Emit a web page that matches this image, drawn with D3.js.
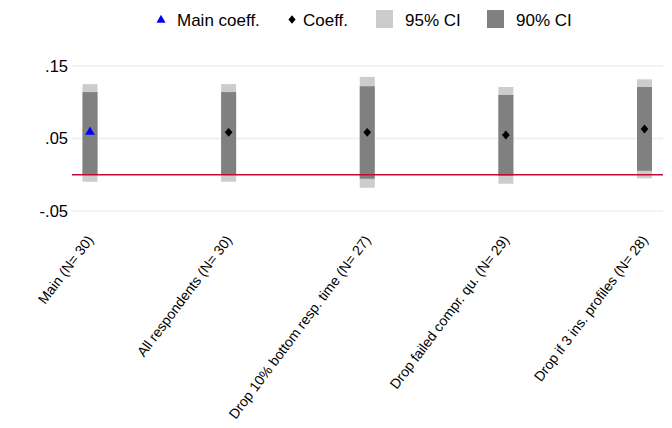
<!DOCTYPE html>
<html><head><meta charset="utf-8">
<script src="https://cdn.jsdelivr.net/npm/d3@7"></script>
<style>body{margin:0;background:#fff}svg{display:block;font-family:"Liberation Sans",Arial,sans-serif}</style>
</head><body><svg id="c" width="672" height="428"></svg>
<script>
const categories = ["Main (N= 30)","All respondents (N= 30)","Drop 10% bottom resp. time (N= 27)","Drop failed compr. qu. (N= 29)","Drop if 3 ins. profiles (N= 28)"];
const coef   = [0.059, 0.0585, 0.0585, 0.0548, 0.063];
const ci95lo = [-0.0097, -0.0096, -0.018, -0.0124, -0.005];
const ci95hi = [0.125, 0.125, 0.135, 0.121, 0.1316];
const ci90lo = [0.001, 0.001, -0.0055, -0.0013, 0.0055];
const ci90hi = [0.114, 0.114, 0.122, 0.110, 0.121];
const yTicks = [0.15, 0.05, -0.05];
const yTickLabels = [".15", ".05", "-.05"];

const svg = d3.select("#c");
const x = d3.scalePoint().domain(categories).range([90, 644.5]);
const y = d3.scaleLinear().domain([-0.05, 0.15]).range([211, 66]);
const bw = 15;

// grid
svg.append("g").selectAll("line").data(yTicks).join("line")
  .attr("x1", 72).attr("x2", 663).attr("y1", d => y(d)).attr("y2", d => y(d))
  .attr("stroke", "#eaf0f0").attr("stroke-width", 1.5);

// y axis labels
const yAxis = d3.axisLeft(y).tickValues(yTicks).tickFormat((d,i) => yTickLabels[i]).tickSize(0).tickPadding(0);
const ga = svg.append("g").attr("transform", "translate(68,0)").call(yAxis);
ga.select(".domain").remove();
ga.selectAll("text").attr("font-size", 16.5).attr("fill", "#000").attr("font-family", "Liberation Sans, Arial, sans-serif");

// CI bars
const idx = d3.range(categories.length);
svg.append("g").selectAll("rect").data(idx).join("rect")
  .attr("x", i => x(categories[i]) - bw/2).attr("width", bw)
  .attr("y", i => y(ci95hi[i])).attr("height", i => y(ci95lo[i]) - y(ci95hi[i]))
  .attr("fill", "#cccccc");
svg.append("g").selectAll("rect").data(idx).join("rect")
  .attr("x", i => x(categories[i]) - bw/2).attr("width", bw)
  .attr("y", i => y(ci90hi[i])).attr("height", i => y(ci90lo[i]) - y(ci90hi[i]))
  .attr("fill", "#808080");

// zero line
svg.append("line").attr("x1", 72).attr("x2", 663).attr("y1", y(0)).attr("y2", y(0))
  .attr("stroke", "#c20a36").attr("stroke-width", 1.5);

// points
svg.append("g").selectAll("path").data(idx).join("path")
  .attr("d", i => i === 0 ? d3.symbol(d3.symbolTriangle, 40)() : d3.symbol(d3.symbolSquare, 30)())
  .attr("transform", i => `translate(${x(categories[i])},${y(coef[i])})` + (i === 0 ? "" : " scale(1,1.15) rotate(45)"))
  .attr("fill", i => i === 0 ? "#0000ff" : "#000");

// x labels
svg.append("g").selectAll("text").data(categories).join("text")
  .attr("transform", d => `translate(${x(d)+4},240) rotate(-53)`)
  .attr("text-anchor", "end").attr("font-size", 14).attr("fill", "#000").text(d => d);

// legend
const lg = svg.append("g");
lg.append("path").attr("transform", "translate(161,20)").attr("d", d3.symbol(d3.symbolTriangle, 36)()).attr("fill", "#0000ff");
lg.append("text").attr("x", 177).attr("y", 26).attr("font-size", 17).text("Main coeff.");
lg.append("path").attr("transform", "translate(292,19.5) scale(1,1.15) rotate(45)").attr("d", d3.symbol(d3.symbolSquare, 26)()).attr("fill", "#000");
lg.append("text").attr("x", 303).attr("y", 26).attr("font-size", 17).text("Coeff.");
lg.append("rect").attr("x", 376).attr("y", 10).attr("width", 17).attr("height", 18).attr("fill", "#cccccc");
lg.append("text").attr("x", 405).attr("y", 26).attr("font-size", 17).text("95% CI");
lg.append("rect").attr("x", 487).attr("y", 10).attr("width", 17).attr("height", 18).attr("fill", "#808080");
lg.append("text").attr("x", 516).attr("y", 26).attr("font-size", 17).text("90% CI");
</script></body></html>
